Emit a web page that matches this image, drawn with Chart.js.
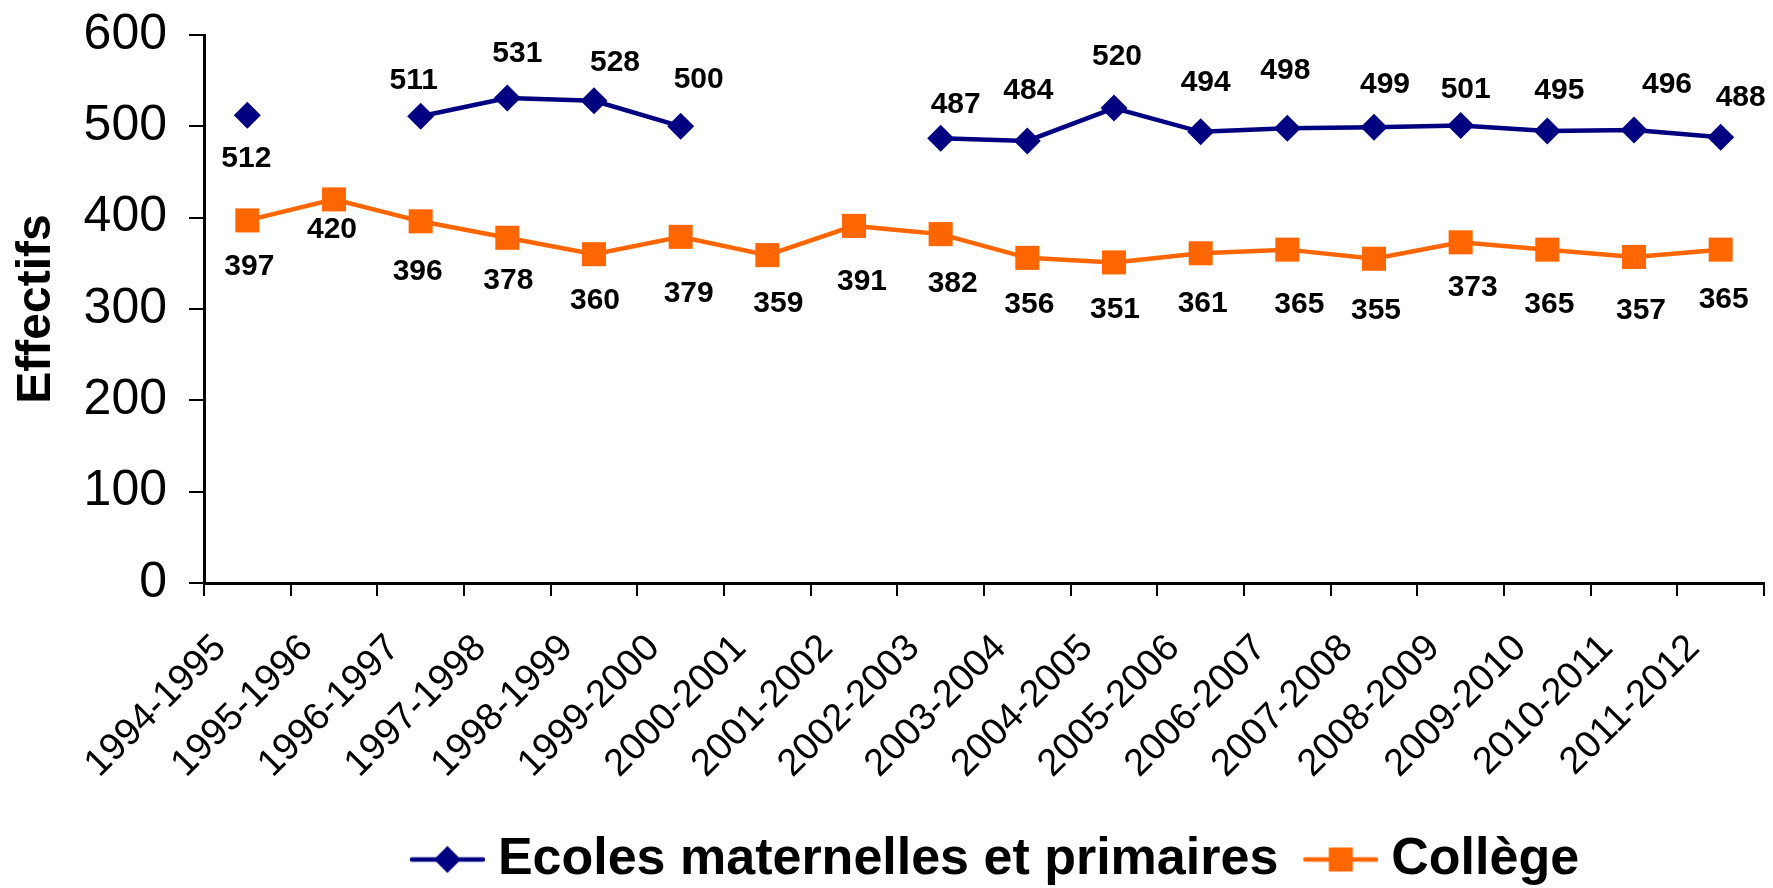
<!DOCTYPE html>
<html>
<head>
<meta charset="utf-8">
<script src="https://cdn.jsdelivr.net/npm/chart.js@4/dist/chart.umd.min.js"></script>
<style>
  html, body { margin: 0; padding: 0; background: #fff; }
  #wrap { width: 1773px; height: 888px; }
</style>
</head>
<body>
<div id="wrap"><canvas id="effectifs"></canvas></div>
<script>
const years = ["1994-1995", "1995-1996", "1996-1997", "1997-1998", "1998-1999", "1999-2000",
  "2000-2001", "2001-2002", "2002-2003", "2003-2004", "2004-2005", "2005-2006",
  "2006-2007", "2007-2008", "2008-2009", "2009-2010", "2010-2011", "2011-2012"];
const ecoles = [512, null, 511, 531, 528, 500, null, null, 487, 484, 520, 494, 498, 499, 501, 495, 496, 488];
const college = [397, 420, 396, 378, 360, 379, 359, 391, 382, 356, 351, 361, 365, 355, 373, 365, 357, 365];
const yTicks = [0, 100, 200, 300, 400, 500, 600];

// value label nudges [dx, dy] in px from each point
const ecolesShift = [[-1, 43], null, [-7, -36], [10, -44], [21, -38], [18, -47], null, null,
  [15, -33], [1, -50], [3, -51], [5, -49], [-2, -57], [11, -43], [5, -36], [12, -40], [33, -45], [20, -40]];
const collegeShift = [[2, 46], [-2, 30], [-3, 50], [1, 43], [1, 47], [8, 57], [11, 49], [8, 56], [12, 50],
  [2, 47], [1, 47], [2, 50], [12, 55], [2, 52], [12, 45], [2, 55], [7, 54], [3, 50]];

const NAVY = "#000080";
const ORANGE = "#FF6600";
const FONT = "'Liberation Sans', Arial, sans-serif";

// line + marker swatch for the legend (left part kept blank as item spacing)
function swatch(color, shape) {
  const c = document.createElement("canvas");
  c.width = 109; c.height = 34;
  const g = c.getContext("2d");
  g.strokeStyle = color;
  g.fillStyle = color;
  g.lineWidth = 4.5;
  g.lineCap = "round";
  g.beginPath();
  g.moveTo(36, 17); g.lineTo(107, 17);
  g.stroke();
  const cx = 71.5;
  g.beginPath();
  if (shape === "diamond") {
    g.moveTo(cx, 3.5); g.lineTo(cx + 13.5, 17); g.lineTo(cx, 30.5); g.lineTo(cx - 13.5, 17);
  } else {
    g.rect(cx - 12, 5, 24, 24);
  }
  g.closePath();
  g.fill();
  return c;
}

const valueLabels = {
  id: "valueLabels",
  afterDatasetsDraw(chart) {
    const ctx = chart.ctx;
    const shifts = [ecolesShift, collegeShift];
    ctx.save();
    ctx.font = "bold 30px " + FONT;
    ctx.fillStyle = "#000";
    ctx.textAlign = "center";
    ctx.textBaseline = "middle";
    chart.data.datasets.forEach((ds, i) => {
      const meta = chart.getDatasetMeta(i);
      meta.data.forEach((pt, j) => {
        const v = ds.data[j];
        if (v === null) return;
        const [dx, dy] = shifts[i][j];
        ctx.fillText(String(v), pt.x + dx, pt.y + dy);
      });
    });
    ctx.restore();
  }
};

new Chart(document.getElementById("effectifs"), {
  type: "line",
  data: {
    labels: years,
    datasets: [
      {
        label: "Ecoles maternelles et primaires",
        data: ecoles,
        borderColor: NAVY,
        backgroundColor: NAVY,
        borderWidth: 4.5,
        pointStyle: "rectRot",
        pointRadius: 13.5,
        pointBorderWidth: 0,
        spanGaps: false,
        tension: 0,
      },
      {
        label: "Collège",
        data: college,
        borderColor: ORANGE,
        backgroundColor: ORANGE,
        borderWidth: 4.5,
        pointStyle: "rect",
        pointRadius: 17,
        pointBorderWidth: 0,
        tension: 0,
      },
    ],
  },
  options: {
    responsive: true,
    maintainAspectRatio: false,
    animation: false,
    layout: { autoPadding: false, padding: { top: 35, right: 9, bottom: -7.5, left: 0 } },
    plugins: {
      tooltip: { enabled: false },
      legend: {
        position: "bottom",
        fullSize: false,
        labels: {
          color: "#000",
          font: { family: FONT, size: 52, weight: "bold" },
          usePointStyle: true,
          pointStyleWidth: 83,
          padding: 4,
          generateLabels(chart) {
            const items = Chart.defaults.plugins.legend.labels.generateLabels(chart);
            items[0].pointStyle = swatch(NAVY, "diamond");
            items[1].pointStyle = swatch(ORANGE, "square");
            return items;
          },
        },
      },
    },
    scales: {
      x: {
        offset: true,
        grid: {
          offset: true,
          drawOnChartArea: false,
          drawTicks: true,
          tickLength: 13,
          color: "#000",
          lineWidth: 2,
        },
        border: { display: true, color: "#000", width: 3 },
        ticks: {
          color: "#000",
          font: { family: FONT, size: 38 },
          minRotation: 45,
          maxRotation: 45,
          autoSkip: false,
          padding: 30,
          labelOffset: -27,
        },
        afterFit(scale) {
          scale.height = 246.5;
          scale.paddingLeft = 0;
          scale.paddingRight = 0;
        },
      },
      y: {
        min: 0,
        max: 600,
        afterBuildTicks(scale) { scale.ticks = yTicks.map(v => ({ value: v })); },
        grid: {
          drawOnChartArea: false,
          drawTicks: true,
          tickLength: 15,
          color: "#000",
          lineWidth: 2,
        },
        border: { display: true, color: "#000", width: 3 },
        ticks: {
          color: "#000",
          font: { family: FONT, size: 50 },
          padding: 22,
        },
        title: {
          display: true,
          text: "Effectifs",
          color: "#000",
          font: { family: FONT, size: 48, weight: "bold" },
          padding: { top: 8, bottom: 0 },
        },
        afterFit(scale) {
          scale.width = 204;
          scale.paddingTop = 0;
          scale.paddingBottom = 0;
        },
      },
    },
  },
  plugins: [valueLabels],
});
</script>
</body>
</html>
